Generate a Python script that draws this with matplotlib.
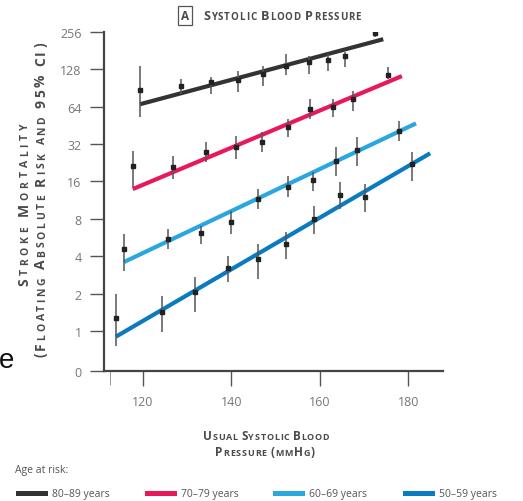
import numpy as np
import matplotlib
matplotlib.use("Agg")
import matplotlib.pyplot as plt
from matplotlib.patches import Rectangle

W, H = 523, 502

# ---- data ----
groups = ["80\u201389 years", "70\u201379 years", "60\u201369 years", "50\u201359 years"]
colors = ["#333333", "#E8195A", "#2AA7E0", "#0A7BC0"]

sbp_80 = [119.3, 128.6, 135.4, 141.5, 147.1, 152.3, 157.5, 161.8, 165.6, 172.4]
risk_80 = [87, 94, 101, 105, 117, 136, 146, 152, 163, 250]
lo_80 = [53, 81, 81, 84, 94, 115, 117, 124, 133, 232]
hi_80 = [136, 107, 111, 124, 136, 170, 163, 170, 176, 280]

sbp_70 = [117.7, 126.9, 134.2, 141.0, 146.9, 152.8, 157.7, 162.9, 167.4, 175.4]
risk_70 = [21.3, 20.8, 27.6, 30.3, 33, 43.8, 61, 63.5, 74, 115]
lo_70 = [14.4, 16.7, 22.9, 24.2, 27.6, 36.4, 51, 52.7, 59, 107]
hi_70 = [28, 25.6, 33, 37, 40, 51, 74, 74, 85.5, 133]

sbp_60 = [115.7, 125.7, 133.1, 139.9, 146.0, 152.8, 158.4, 163.6, 168.4, 177.9]
risk_60 = [4.57, 5.5, 6.15, 7.5, 11.5, 14.4, 16.4, 23.4, 28.6, 40.7]
lo_60 = [3.04, 4.57, 5.0, 6.0, 9.6, 12, 13.4, 17.7, 21.3, 33.8]
hi_60 = [6.0, 6.6, 7.0, 9.3, 13.9, 17.7, 19, 30.3, 36.4, 49]

sbp_50 = [113.9, 124.4, 131.8, 139.2, 146.0, 152.3, 158.6, 164.5, 170.2, 180.8]
risk_50 = [1.27, 1.42, 2.06, 3.2, 3.8, 5.0, 8.0, 12.5, 12.0, 22]
lo_50 = [0.76, 0.98, 1.42, 2.48, 2.62, 3.8, 6.0, 9.6, 9.1, 16.1]
hi_50 = [1.98, 1.91, 2.72, 4.0, 5.0, 6.3, 10.1, 15.8, 15.2, 27.6]

# fitted lines: (start sbp, end sbp), (start risk, end risk)
fit_x = [(119.3, 174.3), (117.7, 178.5), (115.7, 181.7), (113.9, 184.9)]
fit_y = [(67, 224), (13.9, 113), (3.59, 47), (0.9, 27)]

yticks = [0.476, 1, 2, 4, 8, 16, 32, 64, 128, 256]
ytick_labels = ["0", "1", "2", "4", "8", "16", "32", "64", "128", "256"]
xticks = [120, 140, 160, 180]

sbp = [sbp_80, sbp_70, sbp_60, sbp_50]
risk = [risk_80, risk_70, risk_60, risk_50]
lo = [lo_80, lo_70, lo_60, lo_50]
hi = [hi_80, hi_70, hi_60, hi_50]

FONT = "Open Sans"
TXT = "#4a4a4a"

fig = plt.figure(figsize=(W / 100, H / 100), dpi=100)
ax = fig.add_axes([104 / W, 1 - 372 / H, (443 - 104) / W, (372 - 33) / H])

for i in range(4):
    ax.plot(fit_x[i], fit_y[i], color=colors[i], lw=3.0, solid_capstyle="butt", zorder=2)
    ax.vlines(sbp[i], lo[i], hi[i], color="#555555", lw=1.1, zorder=3)
    ax.plot(sbp[i], risk[i], "s", ms=3.0, color="#222222", zorder=4)

ax.set_yscale("log", base=2)
ax.set_ylim(0.476, 256)
ax.set_xlim(111.2, 187.8)
ax.set_yticks(yticks)
ax.set_yticklabels(ytick_labels)
ax.yaxis.set_minor_locator(matplotlib.ticker.NullLocator())
ax.set_xticks(xticks)
ax.set_xticks([112.5], minor=True)
ax.tick_params(axis="y", direction="out", length=10, width=1, color="#555555",
               labelcolor="#777777", labelsize=9, pad=6)
ax.tick_params(axis="x", direction="out", length=11, width=1, color="#555555",
               labelcolor="#777777", labelsize=9, pad=6)
ax.tick_params(axis="x", which="minor", length=10, width=0.6, color="#888888")
for lab in ax.get_xticklabels() + ax.get_yticklabels():
    lab.set_fontfamily(FONT)
for s in ["top", "right"]:
    ax.spines[s].set_visible(False)
for s in ["left", "bottom"]:
    ax.spines[s].set_color("#444444")
    ax.spines[s].set_linewidth(1.6)

renderer = fig.canvas.get_renderer()


def fx(x):
    return x / W


def fy(y):
    return 1 - y / H


def text_w(s, size, weight):
    t = fig.text(0, 0, s, fontsize=size, fontfamily=FONT, fontweight=weight)
    w = t.get_window_extent(renderer).width
    t.remove()
    return w


def advance(s, size, weight):
    # width of s up to where the next glyph would start
    return text_w(s + "|", size, weight) - text_w("|", size, weight)


def smallcaps(cx, cy, s, big, small, rot=0, track=1.0, weight="bold", color=TXT):
    # letter-spaced small caps, centred on cx (horizontal) or cy (rotated 90)
    chars = []
    for ch in s:
        if ch.islower():
            chars.append((ch.upper(), small))
        else:
            chars.append((ch, big))
    space = advance("N N", small, weight) - advance("NN", small, weight)
    widths = [(space if c == " " else advance(c, sz, weight)) + track for c, sz in chars]
    total = sum(widths) - track
    pos = cx - total / 2 if rot == 0 else cy + total / 2
    for (c, sz), w in zip(chars, widths):
        if c != " ":
            if rot == 0:
                fig.text(fx(pos), fy(cy), c, fontsize=sz, fontfamily=FONT, fontweight=weight,
                         color=color, ha="left", va="baseline")
            else:
                fig.text(fx(cx), fy(pos), c, fontsize=sz, fontfamily=FONT, fontweight=weight,
                         color=color, ha="left", va="baseline", rotation=90,
                         rotation_mode="anchor")
        pos += w if rot == 0 else -w


# title
fig.text(fx(185), fy(16.5), "A", fontsize=8.5, fontfamily=FONT, fontweight="bold",
         color=TXT, ha="center", va="center",
         bbox=dict(boxstyle="square,pad=0.25", fc="white", ec="#555555", lw=0.9))
smallcaps(282, 20.5, "Systolic Blood Pressure", 9, 7, track=0.9)

# y label
smallcaps(28, 205, "Stroke Mortality", 10, 7.5, rot=90, track=3.7)
smallcaps(45, 200, "(Floating Absolute Risk and 95% CI)", 10, 7.5, rot=90, track=2.7)

# x label
smallcaps(266, 440, "Usual Systolic Blood", 8.5, 6.5, track=0.7)
smallcaps(265, 456, "Pressure (mmHg)", 8.5, 6.5, track=0.8)

# stray letter from neighbouring panel
fig.text(fx(-1), fy(368), "e", fontsize=20, fontfamily="Liberation Sans", color="#111111",
         ha="left", va="baseline")

# legend
fig.text(fx(15), fy(471), "Age at risk:", fontsize=7.5, fontfamily=FONT, color="#555555",
         ha="left", va="center")
patch_x = [16, 145, 273, 403]
for i in range(4):
    fig.add_artist(Rectangle((fx(patch_x[i]), fy(497)), 32 / W, 5 / H,
                             transform=fig.transFigure, fc=colors[i], ec="none"))
    fig.text(fx(patch_x[i] + 36), fy(494.5), groups[i], fontsize=7.5, fontfamily=FONT,
             color="#555555", ha="left", va="center")

fig.savefig("out.png", dpi=100)
